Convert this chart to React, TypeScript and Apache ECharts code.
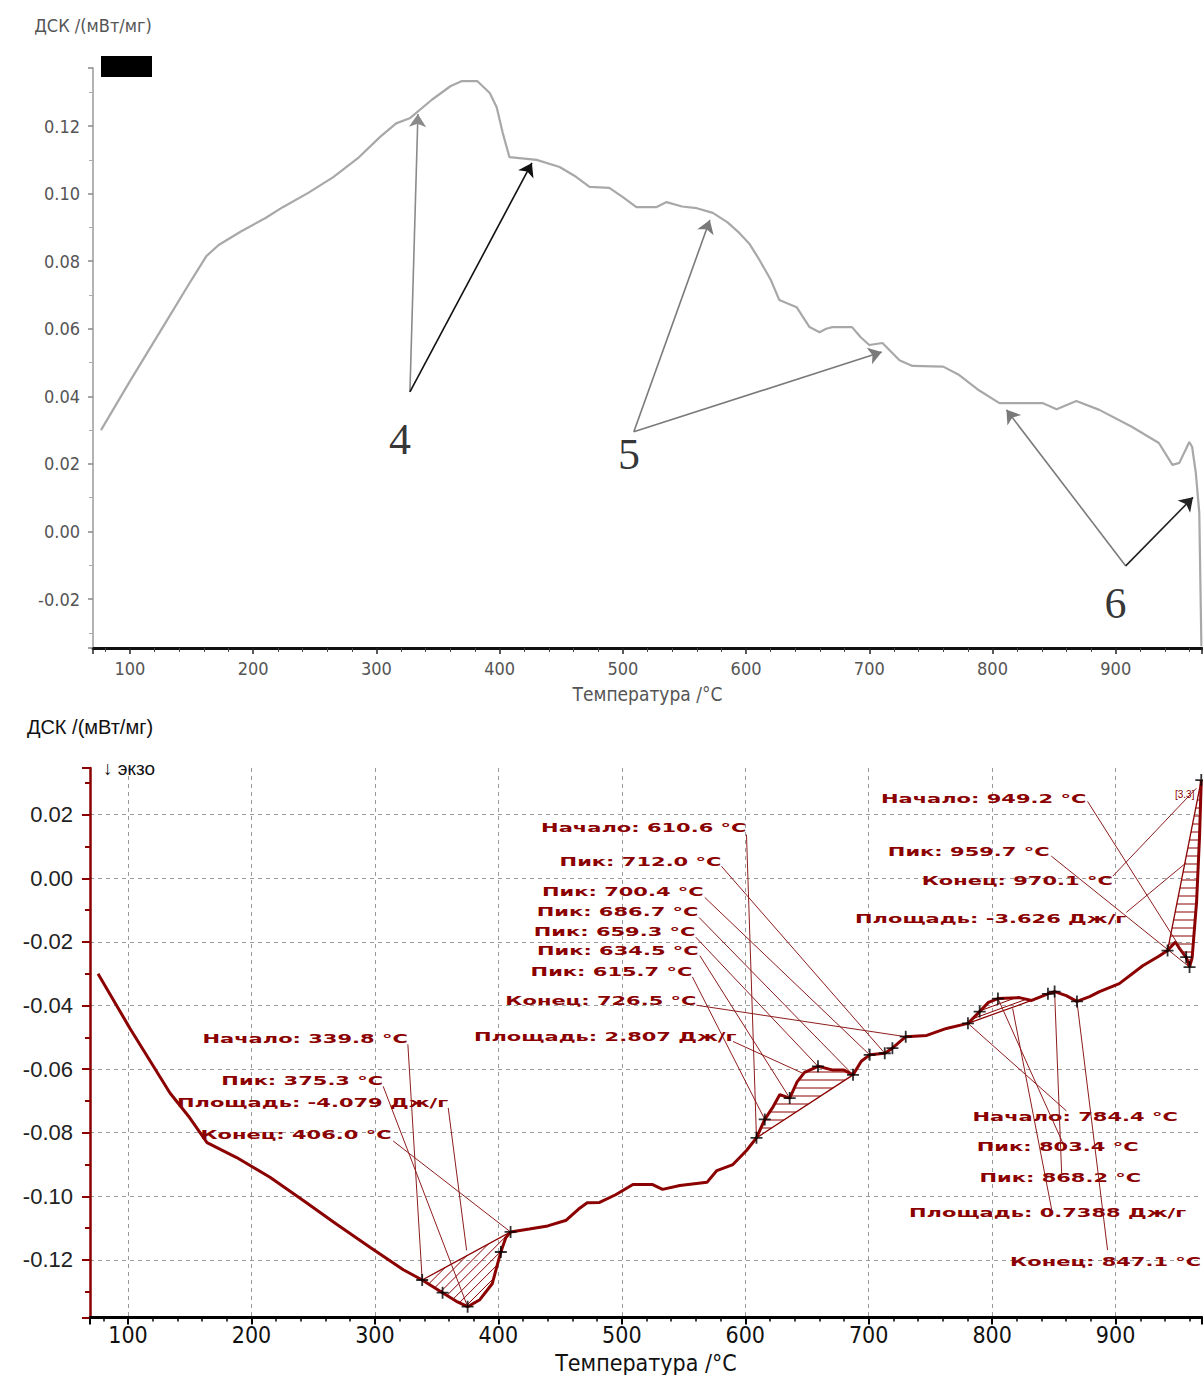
import React, { useEffect, useRef } from 'react';
import * as echarts from 'echarts';

// ---------- DATA ----------
// Top chart (gray DSC curve): [temperature °C, mW/mg]
const topCurve: [number, number][] = [
  [76.5, 0.030], [100, 0.0445], [130, 0.0625], [150, 0.0745], [162, 0.0815], [172, 0.0848],
  [190, 0.0888], [210, 0.0928], [224, 0.0960], [245, 0.1003], [265, 0.1049], [285, 0.1105],
  [303, 0.1168], [316, 0.1208], [327, 0.1223], [345, 0.1278], [360, 0.1318], [369, 0.1333],
  [382, 0.1333], [392, 0.1298], [397.6, 0.1256], [402.5, 0.118], [408, 0.1108], [430, 0.110],
  [448.7, 0.1079], [462, 0.1050], [473, 0.102], [489, 0.1017], [500, 0.0990], [511, 0.096],
  [527, 0.096], [535.5, 0.0975], [548, 0.0962], [560, 0.0957], [573, 0.0943], [585, 0.0915],
  [594.7, 0.0883], [603, 0.0850], [611, 0.0803], [620, 0.0745], [627, 0.0685], [641, 0.0664],
  [651.5, 0.0605], [659.6, 0.059], [665, 0.0600], [670, 0.0605], [686, 0.0605], [693, 0.0575],
  [700, 0.0552], [710.7, 0.0558], [724.5, 0.0507], [735, 0.0490], [760, 0.0488], [773, 0.0463],
  [789, 0.0418], [805.6, 0.038], [827.5, 0.038], [840.5, 0.038], [852, 0.0362], [868, 0.0386],
  [886.7, 0.036], [913, 0.031], [935, 0.0262], [946, 0.0197], [951.6, 0.0203], [959.7, 0.0265],
  [962, 0.025], [965, 0.0173], [967.8, 0.0055], [969.5, -0.034],
];

// Arrows on the top chart: from -> to (data coords)
const topArrows = [
  { from: [327.2, 0.0413], to: [333.7, 0.1236], color: '#8a8a8a' },
  { from: [327.2, 0.0413], to: [426.2, 0.1091], color: '#111111' },
  { from: [508.9, 0.0295], to: [570.6, 0.0922], color: '#7a7a7a' },
  { from: [508.9, 0.0295], to: [710.1, 0.0531], color: '#7a7a7a' },
  { from: [908.1, -0.0102], to: [811.3, 0.036], color: '#7a7a7a' },
  { from: [908.1, -0.0102], to: [962.7, 0.0101], color: '#222222' },
];
const topArrowLabels: [number, number, string][] = [
  [319.1, 0.0271, '4'],
  [504.9, 0.0227, '5'],
  [899.8, -0.0212, '6'],
];

// Bottom chart (dark red DSC curve)
const bottomCurve: [number, number][] = [
  [75.7, -0.030], [101.6, -0.0472], [134, -0.0675], [150, -0.0753], [164, -0.0831], [188, -0.0878],
  [215, -0.094], [242, -0.1013], [269, -0.1088], [296, -0.116], [323, -0.1231], [338.3, -0.1263],
  [354.8, -0.1303], [366, -0.1330], [375.1, -0.1347], [385, -0.1325], [395, -0.1275], [402, -0.1175],
  [406, -0.1130], [409.9, -0.1112], [425, -0.1103], [440, -0.1093], [455, -0.1075], [465, -0.1040],
  [472, -0.1020], [482, -0.1019], [495, -0.0995], [509, -0.0963], [525, -0.0963], [533, -0.0978],
  [547, -0.0966], [569, -0.0956], [577, -0.0919], [590, -0.0900], [601, -0.0856], [609.1, -0.0816],
  [615.8, -0.0758], [622, -0.0722], [628, -0.0680], [636, -0.0691], [642, -0.0640], [648, -0.0610],
  [659, -0.0591], [671, -0.0603], [680, -0.0603], [687.3, -0.0618], [694, -0.0575], [700.8, -0.0555],
  [713, -0.055], [719.2, -0.0534], [730, -0.0498], [747, -0.0494], [763, -0.0472], [780.4, -0.0456],
  [789.9, -0.0419], [797, -0.0390], [804.7, -0.0378], [822, -0.0375], [832, -0.0384], [845.2, -0.0363],
  [850.6, -0.0356], [860, -0.0369], [868.7, -0.0387], [879, -0.0372], [887, -0.0356], [903, -0.0331],
  [922, -0.0275], [935, -0.0245], [942.1, -0.0227], [948.5, -0.0200], [952, -0.0222], [957.2, -0.0248],
  [959.9, -0.0279], [962, -0.0250], [965.6, -0.0075], [968, 0.0131], [969.4, 0.0309],
];

// Characteristic points ("+" marks)
const bottomCrosses: [number, number][] = [
  [338.3, -0.1263], [354.8, -0.1303], [375.1, -0.1347], [402.0, -0.1175], [409.9, -0.1112],
  [609.1, -0.0816], [615.8, -0.0758], [636.0, -0.0691], [658.9, -0.0591], [687.3, -0.0618],
  [700.8, -0.0555], [713.0, -0.055], [719.2, -0.0534], [730.0, -0.0498],
  [780.4, -0.0456], [789.9, -0.0419], [804.7, -0.0378], [845.2, -0.0363], [850.6, -0.0356], [868.7, -0.0387],
  [942.1, -0.0227], [957.2, -0.0248], [959.9, -0.0279], [969.4, 0.0309],
];

// Peak areas (hatched between curve and straight baseline)
const hatchRegions = [
  { from: 338.3, to: 409.9, angle: -45, spacing: 7 },
  { from: 609.1, to: 687.3, angle: 0, spacing: 8 },
  { from: 780.4, to: 832, angle: -20, spacing: 5 },
  { from: 942.1, to: 969.4, angle: 0, spacing: 8 },
];

// Annotations: text, right-end anchor, leader line from -> to
const annotations: { text: string; anchor: [number, number]; from: [number, number]; to: [number, number] }[] = [
  { text: 'Начало: 339.8 °C', anchor: [326.7, -0.0503], from: [326.7, -0.0522], to: [338.3, -0.1263] },
  { text: 'Пик: 375.3 °C', anchor: [306.7, -0.0638], from: [306.7, -0.0654], to: [375.1, -0.1347] },
  { text: 'Площадь: -4.079 Дж/г', anchor: [359.4, -0.0706], from: [359.4, -0.0722], to: [374.3, -0.117] },
  { text: 'Конец: 406.0 °C', anchor: [313.5, -0.0807], from: [314.8, -0.0826], to: [409.9, -0.1112] },

  { text: 'Начало: 610.6 °C', anchor: [601.0, 0.0159], from: [601.0, 0.01375], to: [609.1, -0.0816] },
  { text: 'Пик: 712.0 °C', anchor: [580.7, 0.0053], from: [580.7, 0.0038], to: [713.0, -0.055] },
  { text: 'Пик: 700.4 °C', anchor: [566.4, -0.0041], from: [567.2, -0.006], to: [700.8, -0.0555] },
  { text: 'Пик: 686.7 °C', anchor: [562.1, -0.0106], from: [562.6, -0.0123], to: [687.3, -0.0618] },
  { text: 'Пик: 659.3 °C', anchor: [559.7, -0.0169], from: [559.9, -0.0185], to: [658.9, -0.0591] },
  { text: 'Пик: 634.5 °C', anchor: [562.3, -0.0228], from: [563.2, -0.0243], to: [636.0, -0.0691] },
  { text: 'Пик: 615.7 °C', anchor: [557.2, -0.0294], from: [557.2, -0.031], to: [615.8, -0.0758] },
  { text: 'Конец: 726.5 °C', anchor: [560.5, -0.0384], from: [560.5, -0.0399], to: [730.0, -0.0498] },
  { text: 'Площадь: 2.807 Дж/г', anchor: [592.9, -0.0497], from: [590.1, -0.0513], to: [646.6, -0.0613] },

  { text: 'Начало: 784.4 °C', anchor: [950.4, -0.0751], from: [860.1, -0.0731], to: [780.4, -0.0456] },
  { text: 'Пик: 803.4 °C', anchor: [918.6, -0.0845], from: [857.1, -0.0831], to: [804.7, -0.0378] },
  { text: 'Пик: 868.2 °C', anchor: [920.8, -0.0943], from: [856.3, -0.0928], to: [850.6, -0.0356] },
  { text: 'Площадь: 0.7388 Дж/г', anchor: [957.2, -0.1053], from: [848.2, -0.1041], to: [816.6, -0.0409] },
  { text: 'Конец: 847.1 °C', anchor: [969.4, -0.1206], from: [893.5, -0.1169], to: [868.7, -0.0387] },

  { text: 'Начало: 949.2 °C', anchor: [876.3, 0.0249], from: [877.3, 0.0242], to: [957.2, -0.0248] },
  { text: 'Пик: 959.7 °C', anchor: [846.6, 0.0085], from: [847.9, 0.007], to: [959.9, -0.0279] },
  { text: 'Конец: 970.1 °C', anchor: [897.8, -0.0008], from: [897.8, 0.0007], to: [965.3, 0.0283] },
  { text: 'Площадь: -3.626 Дж/г', anchor: [908.7, -0.0128], from: [908.7, -0.0107], to: [957.2, 0.0049] },
];

const RED = '#8b0000';
const LEADER = '#8e1c1c';
const NARROW = "'Liberation Sans Narrow', 'DejaVu Sans Condensed', 'Arial Narrow', sans-serif";
const ARIAL = "'Liberation Sans', Arial, sans-serif";
const WIDE = "'DejaVu Sans', sans-serif";

function hatchSegments(poly: number[][], angle: number, spacing: number) {
  const a = (angle * Math.PI) / 180;
  const dx = Math.cos(a), dy = Math.sin(a);
  const nx = -dy, ny = dx;
  const pts = poly.map((p) => [p[0] * dx + p[1] * dy, p[0] * nx + p[1] * ny]);
  let wmin = Infinity, wmax = -Infinity;
  pts.forEach((p) => { wmin = Math.min(wmin, p[1]); wmax = Math.max(wmax, p[1]); });
  const segs: number[][] = [];
  for (let w = Math.ceil(wmin / spacing) * spacing; w <= wmax; w += spacing) {
    const us: number[] = [];
    for (let i = 0; i < pts.length; i++) {
      const p = pts[i], q = pts[(i + 1) % pts.length];
      if ((p[1] <= w && q[1] > w) || (q[1] <= w && p[1] > w)) {
        const t = (w - p[1]) / (q[1] - p[1]);
        us.push(p[0] + t * (q[0] - p[0]));
      }
    }
    us.sort((m, n) => m - n);
    for (let k = 0; k + 1 < us.length; k += 2) {
      const u1 = us[k], u2 = us[k + 1];
      segs.push([u1 * dx + w * nx, u1 * dy + w * ny, u2 * dx + w * nx, u2 * dy + w * ny]);
    }
  }
  return segs;
}

const CROSS = 'path://M4.25 0H5.75V4.25H10V5.75H5.75V10H4.25V5.75H0V4.25H4.25Z';

export default function App() {
  const ref = useRef<HTMLDivElement>(null);
  useEffect(() => {
    document.body.style.margin = '0';
    if (!ref.current) return;
    const chart = echarts.init(ref.current, undefined, { renderer: 'svg' });
    const option: any = {
      animation: false,
      backgroundColor: '#ffffff',
      grid: [
        { left: 93, top: 68, width: 1109, height: 580, containLabel: false },
        { left: 90, top: 768, width: 1112, height: 553, containLabel: false },
      ],
      xAxis: [
        {
          gridIndex: 0, type: 'value', min: 70, max: 970, minInterval: 100, maxInterval: 100,
          name: 'Температура /°C', nameLocation: 'middle', nameGap: 46,
          nameTextStyle: { color: '#555', fontSize: 19, fontFamily: NARROW, verticalAlign: 'middle' },
          axisLine: { show: true, onZero: false, lineStyle: { color: '#111', width: 3 } },
          axisTick: { show: true, length: 6, lineStyle: { color: '#222', width: 1.5 } },
          minorTick: { show: true, splitNumber: 5, length: 4, lineStyle: { color: '#444', width: 1 } },
          axisLabel: { color: '#555', fontSize: 18, fontFamily: NARROW, margin: 11, showMinLabel: false, showMaxLabel: false },
          splitLine: { show: false },
        },
        {
          gridIndex: 1, type: 'value', min: 69.2, max: 970, minInterval: 100, maxInterval: 100,
          name: 'Температура /°C', nameLocation: 'middle', nameGap: 45,
          nameTextStyle: { color: '#111', fontSize: 23, fontFamily: NARROW, verticalAlign: 'middle' },
          axisLine: { show: true, onZero: false, lineStyle: { color: '#000', width: 3 } },
          axisTick: { show: true, length: 7, lineStyle: { color: '#000', width: 2 } },
          minorTick: { show: true, splitNumber: 5, length: 4, lineStyle: { color: '#000', width: 1.5 } },
          axisLabel: { color: '#111', fontSize: 23, fontFamily: NARROW, margin: 6, showMinLabel: false, showMaxLabel: false },
          splitLine: { show: true, showMinLine: false, showMaxLine: false, lineStyle: { color: '#9a9a9a', type: [4, 4], width: 1 } },
        },
      ],
      yAxis: [
        {
          gridIndex: 0, type: 'value', min: -0.0345, max: 0.1372, minInterval: 0.02, maxInterval: 0.02,
          name: 'ДСК /(мВт/мг)', nameLocation: 'end', nameGap: 43,
          nameTextStyle: { color: '#555', fontSize: 18, fontFamily: NARROW, align: 'center', verticalAlign: 'middle' },
          axisLine: { show: true, onZero: false, lineStyle: { color: '#9a9a9a', width: 1.5 } },
          axisTick: { show: true, length: 5, lineStyle: { color: '#888', width: 1.5 } },
          minorTick: { show: true, splitNumber: 2, length: 4, lineStyle: { color: '#aaa', width: 1 } },
          axisLabel: { color: '#555', fontSize: 18, fontFamily: NARROW, margin: 13, showMinLabel: false, showMaxLabel: false, formatter: (v: number) => v.toFixed(2) },
          splitLine: { show: false },
        },
        {
          gridIndex: 1, type: 'value', min: -0.1381, max: 0.0347, minInterval: 0.02, maxInterval: 0.02,
          name: 'ДСК /(мВт/мг)', nameLocation: 'end', nameGap: 41,
          nameTextStyle: { color: '#111', fontSize: 20, fontFamily: ARIAL, align: 'center', verticalAlign: 'middle' },
          axisLine: { show: true, onZero: false, lineStyle: { color: RED, width: 2.5 } },
          axisTick: { show: true, length: 8, lineStyle: { color: RED, width: 2 } },
          minorTick: { show: true, splitNumber: 2, length: 5, lineStyle: { color: RED, width: 2 } },
          axisLabel: { color: '#222', fontSize: 22, fontFamily: ARIAL, margin: 17, showMinLabel: false, showMaxLabel: false, formatter: (v: number) => v.toFixed(2) },
          splitLine: { show: true, showMinLine: false, showMaxLine: false, lineStyle: { color: '#9a9a9a', type: [4, 4], width: 1 } },
        },
      ],
      series: [
        {
          type: 'line', xAxisIndex: 0, yAxisIndex: 0, data: topCurve, showSymbol: false, symbol: 'none',
          lineStyle: { color: '#a8a8a8', width: 2.2 }, z: 3, silent: true,
          markLine: {
            silent: true, symbol: ['none', 'arrow'], symbolSize: 13, label: { show: false },
            lineStyle: { type: 'solid', width: 1.6 },
            emphasis: { disabled: true },
            data: topArrows.map((a) => [
              { coord: a.from, lineStyle: { color: a.color, type: 'solid', width: 1.6 }, itemStyle: { color: a.color } },
              { coord: a.to, itemStyle: { color: a.color } },
            ]),
          },
        },
        {
          type: 'scatter', xAxisIndex: 0, yAxisIndex: 0, data: topArrowLabels, symbolSize: 1,
          itemStyle: { color: 'rgba(0,0,0,0)' }, silent: true, z: 4,
          label: {
            show: true, position: 'inside', formatter: (p: any) => p.value[2],
            color: '#000', fontSize: 44, fontFamily: "'Liberation Serif', 'DejaVu Serif', serif",
          },
        },
        {
          type: 'custom', xAxisIndex: 1, yAxisIndex: 1, coordinateSystem: 'cartesian2d', silent: true, z: 2,
          data: hatchRegions.map((r, i) => [r.from, -0.05, i]),
          encode: { x: 0, y: 1 },
          renderItem: (_params: any, api: any) => {
            const r = hatchRegions[api.value(2)];
            const pts = bottomCurve.filter((p) => p[0] >= r.from - 1e-6 && p[0] <= r.to + 1e-6).map((p) => api.coord(p));
            const segs = hatchSegments(pts, r.angle, r.spacing);
            const children: any[] = segs.map((s) => ({
              type: 'line', shape: { x1: s[0], y1: s[1], x2: s[2], y2: s[3] }, style: { stroke: RED, lineWidth: 1 },
            }));
            const f = pts[0], l = pts[pts.length - 1];
            children.push({ type: 'line', shape: { x1: f[0], y1: f[1], x2: l[0], y2: l[1] }, style: { stroke: RED, lineWidth: 1.3 } });
            return { type: 'group', children };
          },
        },
        {
          type: 'line', xAxisIndex: 1, yAxisIndex: 1, data: bottomCurve, showSymbol: false, symbol: 'none',
          lineStyle: { color: RED, width: 3 }, z: 3, silent: true,
        },
        {
          type: 'custom', xAxisIndex: 1, yAxisIndex: 1, coordinateSystem: 'cartesian2d', silent: true, z: 4,
          data: annotations.map((a, i) => [a.anchor[0], a.anchor[1], i]),
          encode: { x: 0, y: 1 },
          renderItem: (_params: any, api: any) => {
            const a = annotations[api.value(2)];
            const p = api.coord(a.anchor), s = api.coord(a.from), e = api.coord(a.to);
            return {
              type: 'group',
              children: [
                { type: 'line', shape: { x1: s[0], y1: s[1], x2: e[0], y2: e[1] }, style: { stroke: LEADER, lineWidth: 1 } },
                {
                  type: 'text', x: p[0], y: p[1], scaleX: 1.75, scaleY: 1,
                  style: { text: a.text, fill: RED, fontSize: 12, fontWeight: 'bold', fontFamily: WIDE, align: 'right', verticalAlign: 'middle' },
                },
              ],
            };
          },
        },
        {
          type: 'scatter', xAxisIndex: 1, yAxisIndex: 1, data: bottomCrosses, symbol: CROSS, symbolSize: 12,
          itemStyle: { color: '#000' }, z: 5, silent: true,
        },
      ],
      graphic: [
        { type: 'rect', left: 101, top: 56, shape: { width: 51, height: 21 }, style: { fill: '#000' } },
        { type: 'text', left: 103, top: 759, style: { text: '↓ экзо', fill: '#111', fontSize: 19, fontFamily: ARIAL } },
        { type: 'text', left: 1175, top: 789, style: { text: '[3.3]', fill: RED, fontSize: 10, fontFamily: ARIAL } },
      ],
    };
    chart.setOption(option);
    return () => chart.dispose();
  }, []);
  return <div ref={ref} style={{ width: 1203, height: 1375 }} />;
}
